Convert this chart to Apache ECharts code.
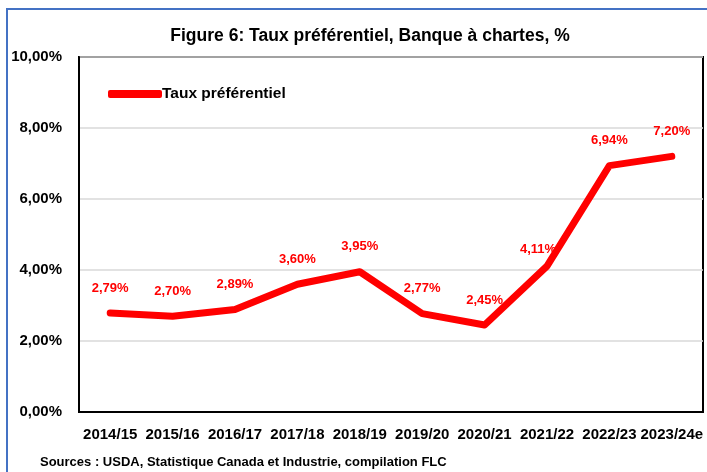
<!DOCTYPE html>
<html>
<head>
<meta charset="utf-8">
<script src="https://cdn.jsdelivr.net/npm/echarts@6/dist/echarts.min.js"></script>
<style>
html,body{margin:0;padding:0;background:#fff;}
#chart{width:707px;height:472px;}
</style>
</head>
<body>
<div id="chart"></div>
<script>
const categories = ['2014/15','2015/16','2016/17','2017/18','2018/19','2019/20','2020/21','2021/22','2022/23','2023/24e'];
const values = [2.79, 2.70, 2.89, 3.60, 3.95, 2.77, 2.45, 4.11, 6.94, 7.20];
const seriesName = 'Taux préférentiel';
const yTicks = [0, 2, 4, 6, 8, 10];
const titleText = 'Figure 6: Taux préférentiel, Banque à chartes, %';
const sourceText = 'Sources : USDA, Statistique Canada et Industrie, compilation FLC';

const FONT = '"Liberation Sans", Arial, sans-serif';
const fmt = v => v.toFixed(2).replace('.', ',') + '%';

const chart = echarts.init(document.getElementById('chart'), null, {renderer: 'canvas'});
chart.setOption({
  animation: false,
  backgroundColor: '#fff',
  title: {
    text: titleText,
    left: 365, top: 22, textAlign: 'center',
    textStyle: {fontFamily: FONT, fontWeight: 'bold', fontSize: 17.5, color: '#000'}
  },
  graphic: [
    {type: 'rect', shape: {x: 7, y: 9, width: 760, height: 520},
     style: {fill: 'none', stroke: '#4472C4', lineWidth: 2}, z: 0},
    {type: 'text', left: 40, top: 456,
     style: {text: sourceText, font: 'bold 13px ' + FONT, fill: '#000'}}
  ],
  legend: {
    left: 103, top: 81,
    icon: 'roundRect', itemWidth: 54, itemHeight: 8, itemGap: 10,
    data: [seriesName],
    textStyle: {fontFamily: FONT, fontWeight: 'bold', fontSize: 15.5, color: '#000', padding: [0,0,0,-5]}
  },
  grid: {left: 79, right: 4, top: 57, bottom: 60, containLabel: false,
         show: true, borderColor: '#000', borderWidth: 2},
  xAxis: {
    type: 'category', data: categories, boundaryGap: true,
    axisLine: {show: true, lineStyle: {color: '#000', width: 2}},
    axisTick: {show: false},
    axisLabel: {interval: 0, margin: 15, fontFamily: FONT, fontWeight: 'bold', fontSize: 15, color: '#000'}
  },
  yAxis: {
    type: 'value', min: yTicks[0], max: yTicks[yTicks.length-1], interval: 2,
    axisLine: {show: true, lineStyle: {color: '#000', width: 2}},
    axisTick: {show: false},
    splitLine: {show: true, lineStyle: {color: '#d9d9d9', width: 1.5}},
    axisLabel: {margin: 17, fontFamily: FONT, fontWeight: 'bold', fontSize: 15, color: '#000',
                formatter: v => fmt(v)}
  },
  series: [{
    name: seriesName, type: 'line',
    data: values.map((v, i) => i === 7 ? {value: v, label: {offset: [-9, 8]}} : v),
    symbol: 'circle', symbolSize: 1, showSymbol: true,
    lineStyle: {color: '#ff0000', width: 7, cap: 'round', join: 'round'},
    itemStyle: {color: '#ff0000'},
    label: {show: true, position: 'top', distance: 18,
            fontFamily: FONT, fontWeight: 'bold', fontSize: 13, color: '#ff0000',
            formatter: p => fmt(p.value)}
  }]
});
</script>
</body>
</html>
